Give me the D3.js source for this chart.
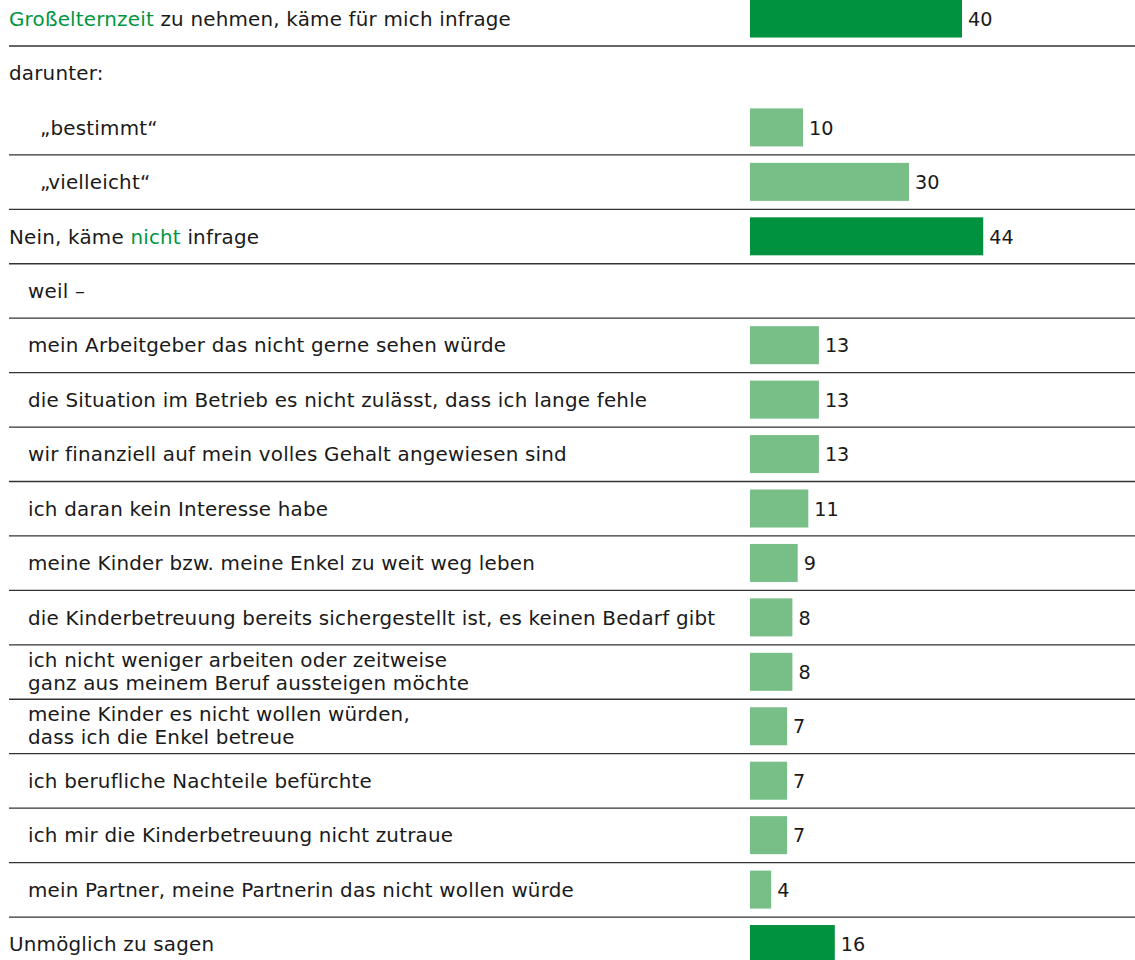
<!DOCTYPE html>
<html><head><meta charset="utf-8">
<script src="https://cdn.jsdelivr.net/npm/d3@7"></script>
<style>html,body{margin:0;padding:0;background:#fff;overflow:hidden}</style>
</head><body><svg id="c" width="1135" height="960"></svg>
<script>
// label pieces: each label is a list of lines, each line a list of [text, highlight]
const labels = [
  [[["Großelternzeit", true], [" zu nehmen, käme für mich infrage", false]]],
  [[["darunter:", false]]],
  [[["„bestimmt“", false]]],
  [[["„vielleicht“", false]]],
  [[["Nein, käme ", false], ["nicht", true], [" infrage", false]]],
  [[["weil –", false]]],
  [[["mein Arbeitgeber das nicht gerne sehen würde", false]]],
  [[["die Situation im Betrieb es nicht zulässt, dass ich lange fehle", false]]],
  [[["wir finanziell auf mein volles Gehalt angewiesen sind", false]]],
  [[["ich daran kein Interesse habe", false]]],
  [[["meine Kinder bzw. meine Enkel zu weit weg leben", false]]],
  [[["die Kinderbetreuung bereits sichergestellt ist, es keinen Bedarf gibt", false]]],
  [[["ich nicht weniger arbeiten oder zeitweise", false]], [["ganz aus meinem Beruf aussteigen möchte", false]]],
  [[["meine Kinder es nicht wollen würden,", false]], [["dass ich die Enkel betreue", false]]],
  [[["ich berufliche Nachteile befürchte", false]]],
  [[["ich mir die Kinderbetreuung nicht zutraue", false]]],
  [[["mein Partner, meine Partnerin das nicht wollen würde", false]]],
  [[["Unmöglich zu sagen", false]]]
];
const values = [40, null, 10, 30, 44, null, 13, 13, 13, 11, 9, 8, 8, 7, 7, 7, 4, 16];
// kind: "main" dark bar, "sub" light bar, "head" no bar
const kinds = ["main","head","sub","sub","main","head","sub","sub","sub","sub","sub","sub","sub","sub","sub","sub","sub","main"];
const indents = [0, 0, 2, 2, 0, 1, 1, 1, 1, 1, 1, 1, 1, 1, 1, 1, 1, 0];
const noLineAfter = [1, 17];

const svg = d3.select("#c");
const font = "'DejaVu Sans', sans-serif";
const fs = 19.9;
const ls = 0.2;
const darkGreen = "#00923F", lightGreen = "#78BE87", textGreen = "#00963F", textCol = "#1a1a1a";

const idx = d3.range(labels.length);
const y = d3.scaleBand().domain(idx).range([-8.45, -8.45 + 54.44 * labels.length]).paddingInner(0);
const x = d3.scaleLinear().domain([0, 100]).range([750, 1280]);
const indentX = d3.scaleOrdinal().domain([0, 1, 2]).range([9, 28, 40]);

// separators
svg.append("g").selectAll("line")
  .data(idx.filter(i => !noLineAfter.includes(i)))
  .join("line")
  .attr("x1", 9).attr("x2", 1135)
  .attr("y1", i => y(i) + y.bandwidth())
  .attr("y2", i => y(i) + y.bandwidth())
  .attr("stroke", "#333").attr("stroke-width", 1.3);

// bars
const barIdx = idx.filter(i => values[i] != null);
svg.append("g").selectAll("rect")
  .data(barIdx)
  .join("rect")
  .attr("x", x(0))
  .attr("y", i => y(i) + 8)
  .attr("width", i => x(values[i]) - x(0))
  .attr("height", 38)
  .attr("fill", i => kinds[i] === "main" ? darkGreen : lightGreen);

// value labels
svg.append("g").selectAll("text")
  .data(barIdx)
  .join("text")
  .attr("x", i => x(values[i]) + 6)
  .attr("y", i => y(i) + y.bandwidth() / 2 + 7)
  .attr("font-family", font).attr("font-size", 19.2)
  .attr("fill", textCol)
  .text(i => values[i]);

// category labels
const lg = svg.append("g");
idx.forEach(i => {
  const lines = labels[i];
  const cy = y(i) + y.bandwidth() / 2;
  const n = lines.length;
  lines.forEach((parts, li) => {
    const base = n === 1 ? cy + 7 : cy - 5 + li * 23;
    const t = lg.append("text")
      .attr("x", indentX(indents[i]))
      .attr("y", base)
      .attr("font-family", font).attr("font-size", fs)
      .attr("letter-spacing", ls)
      .attr("fill", textCol)
      .attr("xml:space", "preserve");
    parts.forEach(([s, hl]) => {
      t.append("tspan").attr("fill", hl ? textGreen : textCol).text(s);
    });
  });
});
</script></body></html>
